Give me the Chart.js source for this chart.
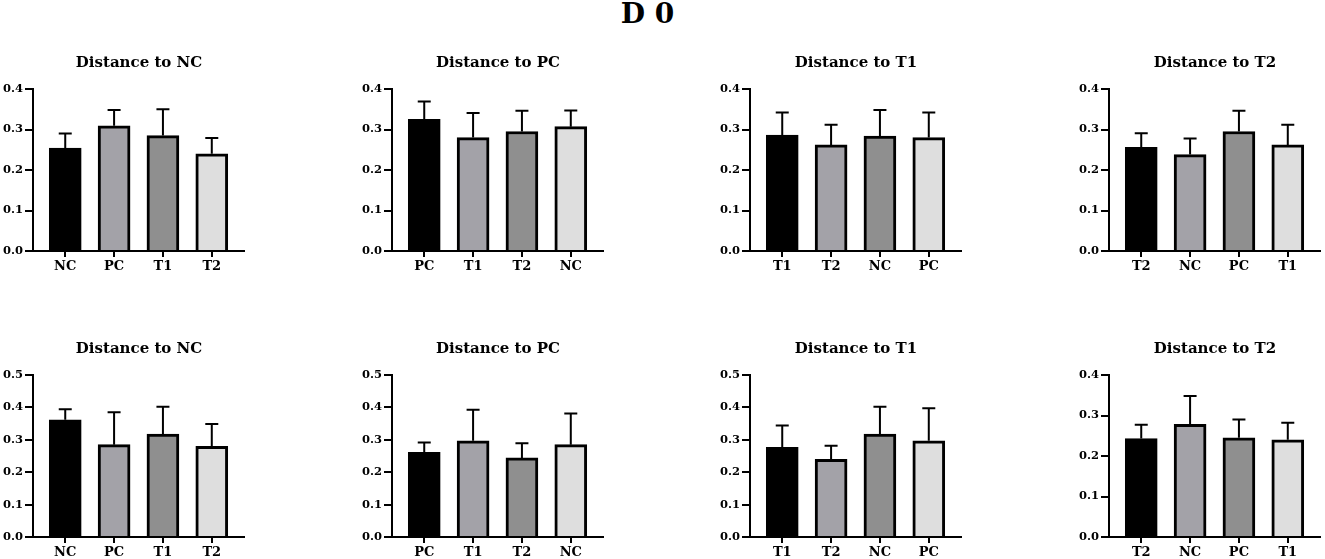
<!DOCTYPE html>
<html>
<head>
<meta charset="utf-8">
<script src="https://cdn.jsdelivr.net/npm/chart.js@4.4.0/dist/chart.umd.min.js"></script>
<style>
  html, body { margin: 0; padding: 0; background: #fff; overflow: hidden; }
  body { width: 1325px; height: 559px; position: relative; }
  #mainTitle {
    position: absolute; left: 0; top: 0; width: 1295px;
    text-align: center; font: bold 28px "DejaVu Serif"; line-height: 28px; color: #000;
  }
  canvas { position: absolute; }
</style>
</head>
<body>
<div id="mainTitle">D 0</div>
<canvas id="p0" width="245" height="240" style="left:0px;top:40px"></canvas>
<canvas id="p1" width="245" height="240" style="left:359px;top:40px"></canvas>
<canvas id="p2" width="245" height="240" style="left:717px;top:40px"></canvas>
<canvas id="p3" width="245" height="240" style="left:1076px;top:40px"></canvas>
<canvas id="p4" width="245" height="240" style="left:0px;top:326px"></canvas>
<canvas id="p5" width="245" height="240" style="left:359px;top:326px"></canvas>
<canvas id="p6" width="245" height="240" style="left:717px;top:326px"></canvas>
<canvas id="p7" width="245" height="240" style="left:1076px;top:326px"></canvas>
<script>
// group order inside each panel
const labelsNC = ['NC', 'PC', 'T1', 'T2'];
const labelsPC = ['PC', 'T1', 'T2', 'NC'];
const labelsT1 = ['T1', 'T2', 'NC', 'PC'];
const labelsT2 = ['T2', 'NC', 'PC', 'T1'];

// top row: means and SD (upper error bar)
const topMeanNC = [0.254, 0.309, 0.285, 0.240];
const topSdNC   = [0.036, 0.039, 0.065, 0.039];
const topMeanPC = [0.325, 0.280, 0.295, 0.307];
const topSdPC   = [0.044, 0.061, 0.051, 0.040];
const topMeanT1 = [0.286, 0.262, 0.284, 0.280];
const topSdT1   = [0.056, 0.050, 0.064, 0.062];
const topMeanT2 = [0.256, 0.238, 0.295, 0.262];
const topSdT2   = [0.035, 0.040, 0.051, 0.050];

// bottom row
const botMeanNC = [0.362, 0.285, 0.318, 0.280];
const botSdNC   = [0.032, 0.100, 0.084, 0.069];
const botMeanPC = [0.261, 0.297, 0.244, 0.285];
const botSdPC   = [0.031, 0.096, 0.045, 0.096];
const botMeanT1 = [0.277, 0.240, 0.318, 0.297];
const botSdT1   = [0.067, 0.042, 0.084, 0.100];
const botMeanT2 = [0.243, 0.278, 0.245, 0.240];
const botSdT2   = [0.034, 0.070, 0.045, 0.042];

const yMaxTop = [0.4, 0.4, 0.4, 0.4];
const yMaxBottom = [0.5, 0.5, 0.5, 0.4];

const barColors = ['#000000', '#a3a2a8', '#8f8f8f', '#dedede'];
const FONT = 'DejaVu Serif';

function makePanel(id, title, labels, means, sds, yMax) {
  const errorBars = {
    id: 'errorBars',
    afterDatasetsDraw(chart) {
      const meta = chart.getDatasetMeta(0);
      const ys = chart.scales.y;
      const ctx = chart.ctx;
      ctx.save();
      ctx.strokeStyle = '#000';
      ctx.lineWidth = 2;
      meta.data.forEach((bar, i) => {
        const top = ys.getPixelForValue(means[i] + sds[i]);
        ctx.beginPath();
        ctx.moveTo(bar.x, bar.y);
        ctx.lineTo(bar.x, top);
        ctx.moveTo(bar.x - 6.5, top);
        ctx.lineTo(bar.x + 6.5, top);
        ctx.stroke();
      });
      ctx.restore();
    }
  };

  // title centred over the plot area, not the canvas
  const panelTitle = {
    id: 'panelTitle',
    afterDraw(chart) {
      const a = chart.chartArea;
      const ctx = chart.ctx;
      ctx.save();
      ctx.fillStyle = '#000';
      ctx.font = 'bold 15px "' + FONT + '"';
      ctx.textAlign = 'center';
      ctx.textBaseline = 'middle';
      ctx.fillText(title, (a.left + a.right) / 2, a.top - 26);
      ctx.restore();
    }
  };

  new Chart(document.getElementById(id), {
    type: 'bar',
    data: {
      datasets: [{
        data: means.map((v, i) => ({ x: i, y: v })),
        backgroundColor: barColors,
        borderColor: '#000',
        borderWidth: 3,
        borderSkipped: 'start',
        barThickness: 32
      }]
    },
    options: {
      responsive: false,
      animation: false,
      layout: { padding: { top: 49, left: 0, right: 0, bottom: 0 } },
      plugins: {
        legend: { display: false },
        tooltip: { enabled: false }
      },
      scales: {
        x: {
          type: 'linear',
          offset: false,
          min: -0.66,
          max: 3.68,
          afterFit(s) { s.height = 29; },
          grid: { display: true, offset: false, drawOnChartArea: false, drawTicks: true, tickLength: 6, color: '#000', lineWidth: 2 },
          border: { display: true, color: '#000', width: 2 },
          ticks: {
            stepSize: 1,
            includeBounds: false,
            autoSkip: false,
            maxRotation: 0,
            padding: 2,
            color: '#000',
            font: { family: FONT, weight: 'bold', size: 13 },
            callback: v => labels[v]
          }
        },
        y: {
          min: 0,
          max: yMax,
          afterFit(s) { s.width = 33; },
          grid: { display: true, drawOnChartArea: false, drawTicks: true, tickLength: 8, color: '#000', lineWidth: 2 },
          border: { display: true, color: '#000', width: 2 },
          ticks: {
            stepSize: 0.1,
            padding: 2,
            color: '#000',
            font: { family: FONT, weight: 'bold', size: 11.5 },
            callback: v => v.toFixed(1)
          }
        }
      }
    },
    plugins: [errorBars, panelTitle]
  });
}

makePanel('p0', 'Distance to NC', labelsNC, topMeanNC, topSdNC, yMaxTop[0]);
makePanel('p1', 'Distance to PC', labelsPC, topMeanPC, topSdPC, yMaxTop[1]);
makePanel('p2', 'Distance to T1', labelsT1, topMeanT1, topSdT1, yMaxTop[2]);
makePanel('p3', 'Distance to T2', labelsT2, topMeanT2, topSdT2, yMaxTop[3]);
makePanel('p4', 'Distance to NC', labelsNC, botMeanNC, botSdNC, yMaxBottom[0]);
makePanel('p5', 'Distance to PC', labelsPC, botMeanPC, botSdPC, yMaxBottom[1]);
makePanel('p6', 'Distance to T1', labelsT1, botMeanT1, botSdT1, yMaxBottom[2]);
makePanel('p7', 'Distance to T2', labelsT2, botMeanT2, botSdT2, yMaxBottom[3]);
</script>
</body>
</html>
